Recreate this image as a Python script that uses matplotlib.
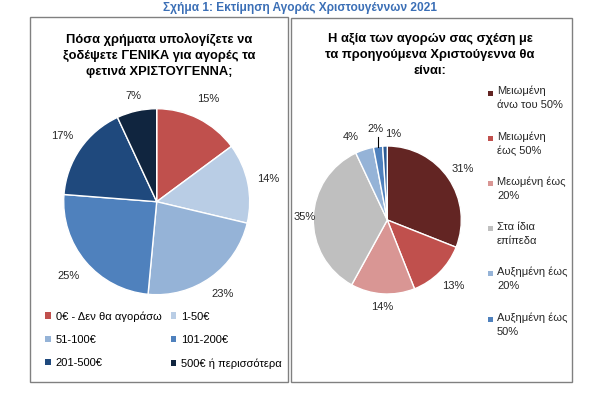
import matplotlib
matplotlib.use("Agg")
import matplotlib.pyplot as plt
from matplotlib.patches import Rectangle, Patch
import numpy as np

plt.rcParams['font.family'] = ['Liberation Sans', 'DejaVu Sans']

W, H = 596, 393

fig_title = "Σχήμα 1: Εκτίμηση Αγοράς Χριστουγέννων 2021"

left_title = "Πόσα χρήματα υπολογίζετε να\nξοδέψετε ΓΕΝΙΚΑ για αγορές τα\nφετινά ΧΡΙΣΤΟΥΓΕΝΝΑ;"
left_labels = ["0€ - Δεν θα αγοράσω", "1-50€", "51-100€", "101-200€",
               "201-500€", "500€ ή περισσότερα"]
left_values = [15, 14, 23, 25, 17, 7]
left_colors = ["#C0504D", "#B9CDE5", "#95B3D7", "#4F81BD", "#1F497D", "#10253F"]
left_dist = [1.24, 1.22, 1.22, 1.24, 1.23, 1.16]

right_title = "Η αξία των αγορών σας σχέση με\nτα προηγούμενα Χριστούγεννα θα\nείναι:"
right_labels = ["Μειωμένη\nάνω του 50%", "Μειωμένη\nέως 50%", "Μεωμένη έως\n20%",
                "Στα ίδια\nεπίπεδα", "Αυξημένη έως\n20%", "Αυξημένη έως\n50%",
                "Αυξημένη\nάνω του 50%"]
right_values = [31, 13, 14, 35, 4, 2, 1]
right_colors = ["#632523", "#C0504D", "#D99694", "#BFBFBF", "#95B3D7", "#4F81BD", "#2C5A92"]
right_dist = [1.23, 1.27, 1.18, 1.12, 1.23, 1.24, 1.16]
# small-slice label nudges (degrees) and leader line flags
right_shift = [0, 0, 0, 0, 6, 0, -6]
right_leader = [False, False, False, False, False, True, False]


def fx(x):
    return x / W


def fy(y):
    return 1 - y / H


fig = plt.figure(figsize=(W / 100, H / 100), dpi=100)

# panel frames
for x0, y0, x1, y1 in [(30, 17, 288, 382), (291, 18, 572, 382)]:
    fig.patches.append(Rectangle((fx(x0), fy(y1)), fx(x1 - x0), (y1 - y0) / H,
                                 transform=fig.transFigure, fill=False,
                                 edgecolor="#808080", linewidth=1.0))

fig.text(fx(300), fy(8), fig_title, ha="center", va="center",
         fontsize=8.6, fontweight="bold", color="#3B6FB6")

fig.text(fx(159), fy(55.5), left_title, ha="center", va="center",
         fontsize=9.3, fontweight="bold", linespacing=1.45)
fig.text(fx(430), fy(55), right_title, ha="center", va="center",
         fontsize=9.3, fontweight="bold", linespacing=1.45)


def draw_pie(cx, cy, r, values, colors, dists, shifts=None, leaders=None):
    ax = fig.add_axes([fx(cx - r), fy(cy + r), 2 * r / W, 2 * r / H])
    wedges, _ = ax.pie(values, colors=colors, startangle=90, counterclock=False,
                       wedgeprops=dict(edgecolor="white", linewidth=1.0))
    ax.set_xlim(-1, 1)
    ax.set_ylim(-1, 1)
    ax.set_aspect("equal")
    ax.axis("off")
    for i, (w, v) in enumerate(zip(wedges, values)):
        ang = (w.theta1 + w.theta2) / 2
        if shifts:
            ang += shifts[i]
        a = np.deg2rad(ang)
        d = dists[i]
        ax.text(d * np.cos(a), d * np.sin(a), f"{v}%", ha="center", va="center",
                fontsize=8, color="#262626")
        if leaders and leaders[i]:
            ax.plot([np.cos(a), np.cos(a)], [np.sin(a), 1.12], color="black",
                    linewidth=0.8, clip_on=False)
    return ax, wedges


axl, wl = draw_pie(156.7, 201.7, 93, left_values, left_colors, left_dist)
axr, wr = draw_pie(387.3, 220, 74, right_values, right_colors, right_dist,
                   right_shift, right_leader)

# left legend, row-major order
order = [0, 2, 4, 1, 3, 5]
handles = [Patch(facecolor=left_colors[i], edgecolor="none") for i in order]
labs = [left_labels[i] for i in order]
fig.legend(handles, labs, loc="upper left", bbox_to_anchor=(fx(45), fy(311)),
           ncol=2, frameon=False, fontsize=8, borderpad=0, borderaxespad=0,
           handlelength=0.5, handleheight=0.5, handletextpad=0.45,
           columnspacing=0.85, labelspacing=1.2)

# right legend (last category not shown in the original), key on first line
for i, (lab, col) in enumerate(zip(right_labels[:6], right_colors[:6])):
    y = 93 + 45.2 * i
    fig.patches.append(Rectangle((fx(488), fy(y + 2.5)), 5 / W, 5 / H,
                                 transform=fig.transFigure, facecolor=col,
                                 edgecolor="none"))
    fig.text(fx(497), fy(y - 7), lab, ha="left", va="top", fontsize=8,
             linespacing=1.5, color="#262626")

fig.savefig("out.png", dpi=100)
